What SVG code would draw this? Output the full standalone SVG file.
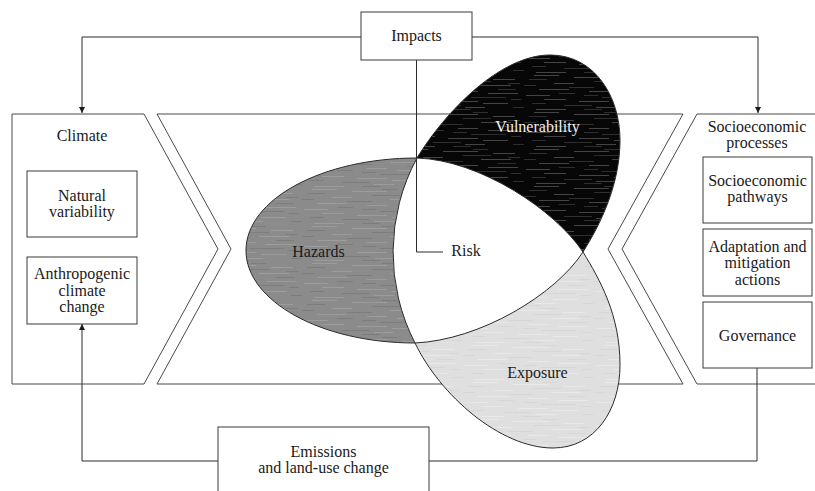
<svg xmlns="http://www.w3.org/2000/svg" width="815" height="491" viewBox="0 0 815 491">
<style>
.bg{fill:#ffffff}
.panel{fill:#ffffff;stroke:#4a4a4a;stroke-width:1}
.box{fill:#ffffff;stroke:#3a3a3a;stroke-width:1}
.t{font-family:"Liberation Serif","Times New Roman",serif;font-size:16px;fill:#1a1a1a;text-anchor:middle}
.tw{fill:#f2f2f2}
.conn{fill:none;stroke:#2a2a2a;stroke-width:1}
.petal{stroke:#2a2a2a;stroke-width:1}
</style>
<defs>
<marker id="arr" viewBox="0 0 10 10" refX="10" refY="5" markerWidth="6" markerHeight="9" markerUnits="userSpaceOnUse" orient="auto">
<path d="M0,0 L10,5 L0,10 z" fill="#1a1a1a"/>
</marker>
<g id="sA">
<rect x="10" y="1" width="25" height="1"/><rect x="50" y="3" width="35" height="1"/>
<rect x="100" y="5" width="22" height="1"/><rect x="30" y="9" width="20" height="1"/>
<rect x="88" y="11" width="30" height="1"/><rect x="15" y="15" width="30" height="1"/>
<rect x="65" y="17" width="20" height="1"/><rect x="95" y="19" width="30" height="1"/>
<rect x="2" y="21" width="24" height="1"/><rect x="20" y="25" width="22" height="1"/>
<rect x="55" y="27" width="30" height="1"/><rect x="90" y="29" width="25" height="1"/>
<rect x="72" y="33" width="20" height="1"/><rect x="12" y="35" width="30" height="1"/>
</g>
<g id="sB">
<rect x="80" y="1" width="15" height="1"/><rect x="5" y="5" width="18" height="1"/>
<rect x="70" y="7" width="28" height="1"/><rect x="115" y="9" width="12" height="1"/>
<rect x="0" y="11" width="12" height="1"/><rect x="45" y="13" width="25" height="1"/>
<rect x="105" y="15" width="18" height="1"/><rect x="35" y="19" width="16" height="1"/>
<rect x="60" y="21" width="14" height="1"/><rect x="78" y="23" width="35" height="1"/>
<rect x="118" y="25" width="10" height="1"/><rect x="8" y="29" width="14" height="1"/>
<rect x="40" y="31" width="28" height="1"/><rect x="120" y="33" width="11" height="1"/>
<rect x="60" y="35" width="18" height="1"/>
</g>
<pattern id="pV" width="131" height="37" patternUnits="userSpaceOnUse">
<rect width="131" height="37" fill="#070707"/>
<use href="#sA" fill="#444444"/>
<use href="#sB" fill="#2e2e2e"/>
</pattern>
<pattern id="pH" width="131" height="37" patternUnits="userSpaceOnUse" x="40" y="3">
<rect width="131" height="37" fill="#8b8b8b"/>
<use href="#sA" fill="#9c9c9c"/>
<use href="#sB" fill="#7d7d7d"/>
</pattern>
<pattern id="pE" width="131" height="37" patternUnits="userSpaceOnUse" x="70" y="11">
<rect width="131" height="37" fill="#dfdfdf"/>
<use href="#sA" fill="#e8e8e8"/>
<use href="#sB" fill="#d7d7d7"/>
</pattern>
</defs>
<rect class="bg" x="0" y="0" width="815" height="491"/>

<g id="panel-climate">
<polygon class="panel" points="12,114 144,114 218,249 144,384 12,384"/>
<text class="t" x="82" y="141">Climate</text>
</g>
<g id="panel-center">
<polygon class="panel" points="157,114 683,114 608,249 683,384 157,384 231,249"/>
</g>
<g id="panel-socio">
<polyline class="panel" points="816,114 697,114 622,249 697,384 816,384"/>
<text class="t" x="757" y="131.5">Socioeconomic</text>
<text class="t" x="757" y="148">processes</text>
</g>

<g id="connectors">
<polyline class="conn" points="361,37 82,37 82,113" marker-end="url(#arr)"/>
<polyline class="conn" points="472,37 758,37 758,113" marker-end="url(#arr)"/>
<polyline class="conn" points="757,368 757,461 429,461"/>
<polyline class="conn" points="218,461 82,461 82,324" marker-end="url(#arr)"/>
</g>

<g id="hazards">
<path class="petal" fill="url(#pH)" d="M417,158 C322.6,158 246,199.2 246,250.5 C246,300.8 320.5,343 415,343 A198,198 0 0 1 417,158 Z"/>
<text class="t" x="318.5" y="256.5">Hazards</text>
</g>
<g id="vulnerability">
<path class="petal" fill="url(#pV)" d="M417,158 C445,112 500,55 550,55 C595,55 620,97 620,140 C620,185 600,225 583,252 C555,210 480,160 417,158 Z"/>
<text class="t tw" x="537.5" y="131.5">Vulnerability</text>
</g>
<g id="exposure">
<path class="petal" fill="url(#pE)" d="M415,343 C440,395 500,448 553,448 C595,448 620,410 620,365 C620,315 600,280 583,252 C555,295 480,340 415,343 Z"/>
<text class="t" x="537.5" y="377.5">Exposure</text>
</g>

<g id="risk">
<polyline class="conn" points="416.5,60 416.5,252 443,252"/>
<text class="t" x="466" y="256">Risk</text>
</g>

<g id="impacts">
<rect class="box" x="361" y="12" width="111" height="48"/>
<text class="t" x="416.5" y="41">Impacts</text>
</g>
<g id="natural-variability">
<rect class="box" x="27" y="171" width="110" height="66"/>
<text class="t" x="82" y="200.5">Natural</text>
<text class="t" x="82" y="217">variability</text>
</g>
<g id="anthropogenic">
<rect class="box" x="27" y="257" width="110" height="67"/>
<text class="t" x="82" y="279">Anthropogenic</text>
<text class="t" x="82" y="295.5">climate</text>
<text class="t" x="82" y="312">change</text>
</g>
<g id="socioeconomic-pathways">
<rect class="box" x="703" y="157" width="109" height="66"/>
<text class="t" x="757.5" y="185.5">Socioeconomic</text>
<text class="t" x="757.5" y="202">pathways</text>
</g>
<g id="adaptation">
<rect class="box" x="703" y="229" width="109" height="67"/>
<text class="t" x="757.5" y="251.5">Adaptation and</text>
<text class="t" x="757.5" y="268">mitigation</text>
<text class="t" x="757.5" y="284.5">actions</text>
</g>
<g id="governance">
<rect class="box" x="703" y="302" width="109" height="66"/>
<text class="t" x="757.5" y="340.5">Governance</text>
</g>
<g id="emissions">
<rect class="box" x="218" y="427" width="211" height="80"/>
<text class="t" x="323.5" y="456.5">Emissions</text>
<text class="t" x="323.5" y="473">and land-use change</text>
</g>
</svg>
